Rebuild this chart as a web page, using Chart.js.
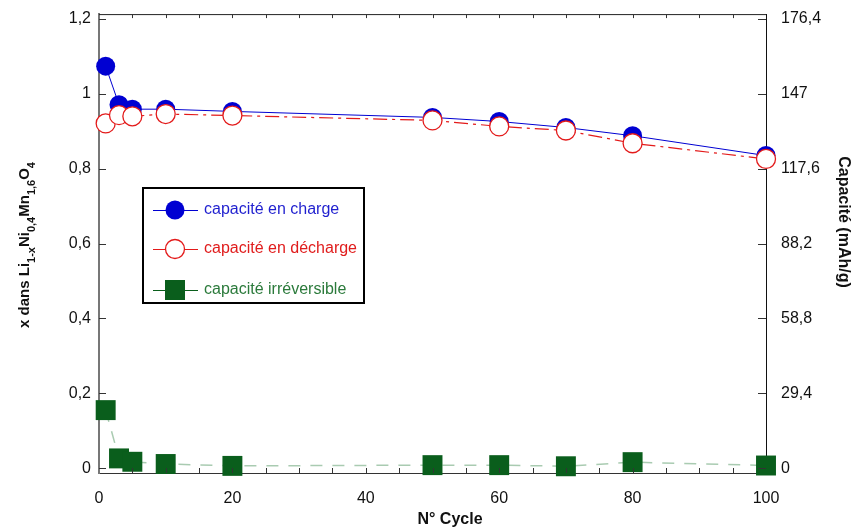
<!DOCTYPE html>
<html>
<head>
<meta charset="utf-8">
<script src="https://cdn.jsdelivr.net/npm/chart.js@4.4.0/dist/chart.umd.min.js"></script>
<style>
  body { margin: 0; background: #fff; }
  #wrap { width: 851px; height: 531px; }
</style>
</head>
<body>
<div id="wrap"><canvas id="capChart" width="851" height="531"></canvas></div>
<script>
// Données
const cycles = [1, 3, 5, 10, 20, 50, 60, 70, 80, 100];
const chargeX = [1.074, 0.971, 0.959, 0.959, 0.953, 0.937, 0.926, 0.910, 0.888, 0.835];
const dechargeX = [0.921, 0.943, 0.940, 0.946, 0.942, 0.929, 0.913, 0.902, 0.868, 0.826];
const irrevX = [0.155, 0.026, 0.017, 0.011, 0.006, 0.008, 0.008, 0.005, 0.016, 0.007];

const xTicks = [0, 20, 40, 60, 80, 100];
const yTicks = [0, 0.2, 0.4, 0.6, 0.8, 1, 1.2];
const capTicks = [0, 29.4, 58.8, 88.2, 117.6, 147, 176.4];
const capFactor = 147; // 1 x = 147 mAh/g

const legendLabels = ['capacité en charge', 'capacité en décharge', 'capacité irréversible'];

const BLUE = '#0000d2';
const RED = '#e31a1a';
const GREEN = '#0a5e1c';
const FONT = '"Liberation Sans", Arial, Helvetica, sans-serif';

const Y_MIN = -0.013, Y_MAX = 1.213;

function toPts(ys) {
    return cycles.map((c, i) => ({ x: c, y: ys[i] }));
}
function fmt(v) {
    return String(Math.round(v * 10) / 10).replace('.', ',');
}
function noPad(s) {
    s.paddingTop = 0; s.paddingBottom = 0; s.paddingLeft = 0; s.paddingRight = 0;
}

// ticks vers l'intérieur, titres, légende
const decorPlugin = {
    id: 'decor',
    afterDraw(chart) {
        const ctx = chart.ctx;
        const a = chart.chartArea;
        const sx = chart.scales.x, sy = chart.scales.y, sy2 = chart.scales.y2;
        ctx.save();

        // frame top
        ctx.strokeStyle = '#222';
        ctx.lineWidth = 1;
        ctx.beginPath();
        ctx.moveTo(a.left, a.top + 0.5);
        ctx.lineTo(a.right, a.top + 0.5);
        ctx.stroke();

        // x ticks (tous les 5)
        ctx.strokeStyle = '#333';
        for (let v = 5; v < 100; v += 5) {
            const px = Math.round(sx.getPixelForValue(v)) + 0.5;
            ctx.beginPath();
            ctx.moveTo(px, a.bottom);
            ctx.lineTo(px, a.bottom - 5);
            ctx.moveTo(px, a.top);
            ctx.lineTo(px, a.top + 4);
            ctx.stroke();
        }
        // y ticks
        yTicks.forEach(v => {
            const py = Math.round(sy.getPixelForValue(v)) + 0.5;
            ctx.beginPath();
            ctx.moveTo(a.left, py);
            ctx.lineTo(a.left + 7, py);
            ctx.stroke();
        });
        capTicks.forEach(v => {
            const py = Math.round(sy2.getPixelForValue(v)) + 0.5;
            ctx.beginPath();
            ctx.moveTo(a.right, py);
            ctx.lineTo(a.right - 8, py);
            ctx.stroke();
        });

        // titre axe x
        ctx.fillStyle = '#111';
        ctx.font = 'bold 16px ' + FONT;
        ctx.textAlign = 'center';
        ctx.textBaseline = 'middle';
        ctx.fillText('N° Cycle', 450, 520);

        // titre axe droit
        ctx.save();
        ctx.translate(843, 222);
        ctx.rotate(Math.PI / 2);
        ctx.fillText('Capacité (mAh/g)', 0, 0);
        ctx.restore();

        // titre axe gauche avec indices
        const parts = [
            ['x dans Li', false], ['1-x', true], ['Ni', false], ['0,4', true],
            ['Mn', false], ['1,6', true], ['O', false], ['4', true]
        ];
        const bigF = 'bold 15px ' + FONT, subF = 'bold 11px ' + FONT;
        let total = 0;
        parts.forEach(p => { ctx.font = p[1] ? subF : bigF; total += ctx.measureText(p[0]).width; });
        ctx.save();
        ctx.translate(25, 245);
        ctx.rotate(-Math.PI / 2);
        ctx.textAlign = 'left';
        let cx = -total / 2;
        parts.forEach(p => {
            ctx.font = p[1] ? subF : bigF;
            ctx.fillText(p[0], cx, p[1] ? 7 : 0);
            cx += ctx.measureText(p[0]).width;
        });
        ctx.restore();

        // légende
        const bx = 143, by = 188, bw = 221, bh = 115;
        ctx.fillStyle = '#fff';
        ctx.fillRect(bx, by, bw, bh);
        ctx.strokeStyle = '#000';
        ctx.lineWidth = 2;
        ctx.strokeRect(bx, by, bw, bh);

        const rows = [210, 249, 290];
        const colors = [BLUE, RED, GREEN];
        const textColors = ['#1f1fcf', '#e01c1c', '#2b7a3b'];
        rows.forEach((ry, i) => {
            ctx.strokeStyle = colors[i];
            ctx.lineWidth = 1;
            ctx.beginPath();
            ctx.moveTo(153, ry + 0.5);
            ctx.lineTo(198, ry + 0.5);
            ctx.stroke();
            if (i === 0) {
                ctx.fillStyle = BLUE;
                ctx.beginPath(); ctx.arc(175, ry, 9.5, 0, Math.PI * 2); ctx.fill();
            } else if (i === 1) {
                ctx.fillStyle = '#fff';
                ctx.lineWidth = 1.3;
                ctx.beginPath(); ctx.arc(175, ry, 9.5, 0, Math.PI * 2); ctx.fill(); ctx.stroke();
            } else {
                ctx.fillStyle = GREEN;
                ctx.fillRect(165, ry - 10, 20, 20);
            }
            ctx.fillStyle = textColors[i];
            ctx.font = '16px ' + FONT;
            ctx.textAlign = 'left';
            ctx.textBaseline = 'middle';
            ctx.fillText(legendLabels[i], 204, ry);
        });

        ctx.restore();
    }
};

new Chart(document.getElementById('capChart'), {
    type: 'line',
    data: {
        datasets: [
            {
                label: legendLabels[0],
                data: toPts(chargeX),
                borderColor: BLUE,
                borderWidth: 1,
                backgroundColor: BLUE,
                pointBackgroundColor: BLUE,
                pointBorderColor: BLUE,
                pointRadius: 9.5,
                pointBorderWidth: 0,
                tension: 0,
                clip: false,
                order: 3
            },
            {
                label: legendLabels[1],
                data: toPts(dechargeX),
                borderColor: RED,
                borderWidth: 1.2,
                borderDash: [14, 5, 3, 5],
                pointBackgroundColor: '#fff',
                pointBorderColor: RED,
                pointBorderWidth: 1.3,
                pointRadius: 9.5,
                tension: 0,
                clip: false,
                order: 2
            },
            {
                label: legendLabels[2],
                data: toPts(irrevX),
                borderColor: 'rgba(40,125,60,0.4)',
                borderWidth: 1.5,
                borderDash: [12, 10],
                pointStyle: 'rect',
                pointBackgroundColor: GREEN,
                pointBorderColor: GREEN,
                pointBorderWidth: 0,
                pointRadius: 14.1,
                tension: 0,
                clip: false,
                order: 1
            }
        ]
    },
    options: {
        responsive: false,
        animation: false,
        layout: { padding: { top: 8, left: 0, right: 0, bottom: 0 } },
        plugins: { legend: { display: false }, tooltip: { enabled: false } },
        scales: {
            x: {
                type: 'linear',
                min: 0, max: 100,
                afterBuildTicks: s => { s.ticks = xTicks.map(v => ({ value: v })); },
                afterFit: s => { s.height = 58; noPad(s); },
                grid: { display: false, drawTicks: false },
                border: { display: true, color: '#333', width: 1 },
                ticks: { color: '#111', padding: 16, font: { family: FONT, size: 16 }, callback: v => fmt(v) }
            },
            y: {
                position: 'left',
                min: Y_MIN, max: Y_MAX,
                afterBuildTicks: s => { s.ticks = yTicks.map(v => ({ value: v })); },
                afterFit: s => { s.width = 99; noPad(s); },
                grid: { display: false, drawTicks: false },
                border: { display: true, color: '#777', width: 2 },
                ticks: { color: '#111', padding: 8, font: { family: FONT, size: 16 }, callback: v => fmt(v) }
            },
            y2: {
                position: 'right',
                min: Y_MIN * capFactor, max: Y_MAX * capFactor,
                afterBuildTicks: s => { s.ticks = capTicks.map(v => ({ value: v })); },
                afterFit: s => { s.width = 85; noPad(s); },
                grid: { display: false, drawTicks: false },
                border: { display: true, color: '#111', width: 1 },
                ticks: { color: '#111', padding: 15, font: { family: FONT, size: 16 }, callback: v => fmt(v) }
            }
        }
    },
    plugins: [decorPlugin]
});
</script>
</body>
</html>
